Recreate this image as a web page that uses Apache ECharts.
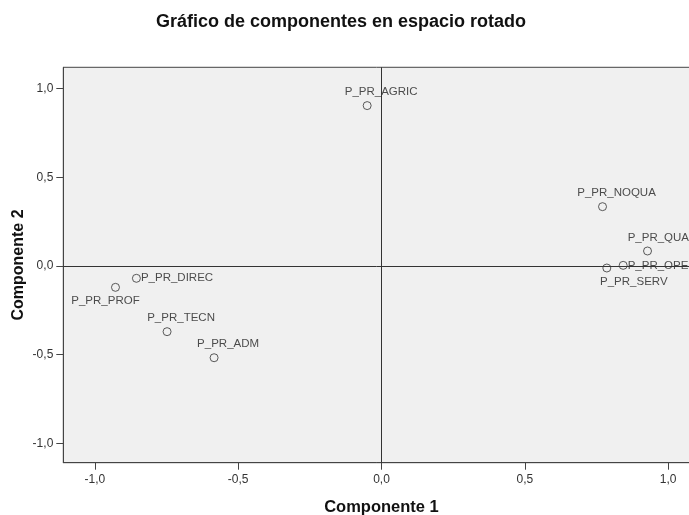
<!DOCTYPE html>
<html>
<head>
<meta charset="utf-8">
<script src="https://cdn.jsdelivr.net/npm/echarts@6/dist/echarts.min.js"></script>
<style>html,body{margin:0;padding:0;background:#fff;}#c{width:689px;height:515px;}</style>
</head>
<body>
<div id="c"></div>
<script>
var names = ['P_PR_AGRIC','P_PR_NOQUA','P_PR_QUAL','P_PR_OPER','P_PR_SERV','P_PR_DIREC','P_PR_PROF','P_PR_TECN','P_PR_ADM'];
var comp1 = [-0.050, 0.771, 0.928, 0.843, 0.786, -0.855, -0.928, -0.748, -0.584];
var comp2 = [0.904, 0.334, 0.084, 0.003, -0.012, -0.070, -0.121, -0.371, -0.518];
var tickValues = [-1.0, -0.5, 0.0, 0.5, 1.0];

var labelStyle = {
  'P_PR_AGRIC': {position:'top', offset:[14,0]},
  'P_PR_NOQUA': {position:'top', offset:[14,0]},
  'P_PR_QUAL': {position:'top', offset:[14,0]},
  'P_PR_OPER': {position:'right', offset:[0,0]},
  'P_PR_SERV': {position:'bottom', offset:[27,0]},
  'P_PR_DIREC': {position:'right', offset:[0,0]},
  'P_PR_PROF': {position:'bottom', offset:[-10,0]},
  'P_PR_TECN': {position:'top', offset:[14,0]},
  'P_PR_ADM': {position:'top', offset:[14,0]}
};

var pts = names.map(function(n,i){
  var ls = labelStyle[n];
  return {
    name: n,
    value: [comp1[i], comp2[i]],
    label: {show:true, formatter:n, position:ls.position, offset:ls.offset, distance: ls.position==='right'?0:3}
  };
});

var fmt = function(v){ return v.toFixed(1).replace('.', ','); };
var font = 'Liberation Sans, Arial, sans-serif';

var chart = echarts.init(document.getElementById('c'));
chart.setOption({
  animation: false,
  title: {
    text: 'Gráfico de componentes en espacio rotado',
    left: 151, top: 8,
    textStyle: {fontFamily: font, fontSize: 18, fontWeight: 'bold', color: '#111'}
  },
  grid: {
    left: 63.3, top: 67.3, width: 636.4, height: 395.4,
    outerBoundsMode: 'none', containLabel: false,
    show: true, backgroundColor: '#f0f0f0', borderColor: '#444', borderWidth: 1
  },
  xAxis: {
    type: 'value', min: -1.11, max: 1.11,
    name: 'Componente 1', nameLocation: 'middle', nameGap: 36, nameMoveOverlap: false,
    nameTextStyle: {fontFamily: font, fontSize: 16.5, fontWeight: 'bold', color: '#111'},
    axisLine: {show: true, onZero: false, lineStyle: {color: '#444'}},
    axisTick: {show: true, inside: false, length: 7, customValues: tickValues, lineStyle: {color: '#444'}},
    axisLabel: {customValues: tickValues, formatter: fmt, margin: 11, fontFamily: font, fontSize: 12, color: '#333'},
    splitLine: {show: false}
  },
  yAxis: {
    type: 'value', min: -1.11, max: 1.12,
    name: 'Componente 2', nameLocation: 'middle', nameGap: 37, nameMoveOverlap: false,
    nameTextStyle: {fontFamily: font, fontSize: 16, fontWeight: 'bold', color: '#111'},
    axisLine: {show: true, onZero: false, lineStyle: {color: '#444'}},
    axisTick: {show: true, inside: false, length: 7, customValues: tickValues, lineStyle: {color: '#444'}},
    axisLabel: {customValues: tickValues, formatter: fmt, margin: 10, fontFamily: font, fontSize: 12, color: '#333'},
    splitLine: {show: false}
  },
  series: [{
    type: 'scatter',
    symbol: 'circle',
    symbolSize: 8,
    itemStyle: {color: 'rgba(0,0,0,0)', borderColor: '#333', borderWidth: 1},
    label: {fontFamily: font, fontSize: 11.5, color: '#222'},
    data: pts,
    markLine: {
      silent: true, symbol: ['none','none'], label: {show:false},
      lineStyle: {color: '#333', width: 1, type: 'solid'},
      data: [{xAxis: 0}, {yAxis: 0}]
    }
  }]
});
</script>
</body>
</html>
